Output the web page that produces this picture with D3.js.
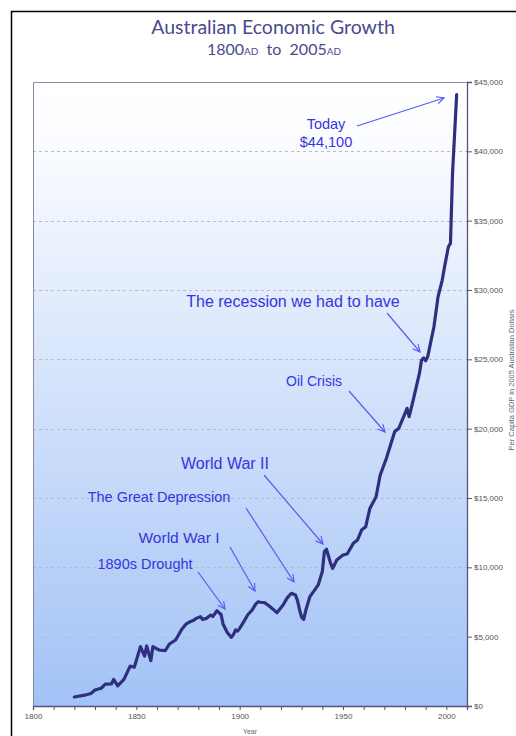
<!DOCTYPE html>
<html><head><meta charset="utf-8">
<script src="https://cdn.jsdelivr.net/npm/d3@7"></script>
<style>body{margin:0;background:#fff}svg{display:block}</style>
</head><body>
<svg id="c" width="516" height="736"></svg>
<script>
const years = [1820,1825,1828,1830,1833,1835,1838,1839,1841,1844,1847,1849,1852,1854,1855,1857,1858,1861,1864,1866,1869,1872,1874,1876,1878,1879,1881,1882,1884,1886,1887,1889,1890,1891,1892,1894,1896,1897,1898,1899,1900,1902,1904,1906,1908,1909,1910,1912,1914,1916,1918,1921,1923,1925,1927,1928,1929,1930,1931,1932,1934,1936,1938,1940,1941,1942,1943,1944,1945,1947,1950,1952,1955,1957,1959,1961,1963,1966,1968,1971,1973,1975,1977,1979,1981,1982,1984,1987,1988,1989,1990,1991,1994,1996,1998,1999,2001,2002,2003,2005];
const gdp = [650,780,900,1150,1280,1580,1600,1920,1450,1920,2880,2800,4280,3600,4330,3270,4280,4040,3990,4470,4760,5530,5900,6080,6200,6320,6440,6250,6320,6560,6450,6870,6730,6600,5900,5300,4950,5150,5480,5400,5600,6080,6600,6920,7400,7520,7480,7450,7250,7000,6730,7280,7800,8130,8000,7600,6920,6400,6250,6900,7900,8300,8730,9700,11130,11300,10800,10290,9930,10530,10890,10960,11730,11970,12690,12930,14250,15090,16660,17860,18820,19780,20030,20750,21470,20860,22070,24000,24950,25100,24900,25200,27350,29520,30700,31560,33120,33360,38410,44100];
const yTicks = [0,5000,10000,15000,20000,25000,30000,35000,40000,45000];
const xTickLabels = [1800,1850,1900,1950,2000];
const notes = [
  {lines:["Today","$44,100"], size:14.5, tx:326, ty:129, from:[357,126], to:[444,98]},
  {lines:["The recession we had to have"], size:16, tx:293, ty:307, from:[387,313], to:[420,352]},
  {lines:["Oil Crisis"], size:14, tx:314, ty:386, from:[349,391], to:[385,432]},
  {lines:["World War II"], size:16, tx:225, ty:469, from:[264,475], to:[323,544]},
  {lines:["The Great Depression"], size:14.5, tx:159, ty:502, from:[246,508], to:[294,582]},
  {lines:["World War I"], size:15.5, tx:179, ty:543, from:[230,547], to:[255,591]},
  {lines:["1890s Drought"], size:14.5, tx:145, ty:569, from:[198,572], to:[225,609]}
];

const svg = d3.select("#c");
const L=33, R=467, T=82, B=706;
const x = d3.scaleLinear().domain([1800,2010]).range([L,R]);
const y = d3.scaleLinear().domain([0,45000]).range([B,T]);

const defs = svg.append("defs");
const g = defs.append("linearGradient").attr("id","bg").attr("x1",0).attr("y1",0).attr("x2",0).attr("y2",1);
g.append("stop").attr("offset","0%").attr("stop-color","#ffffff");
g.append("stop").attr("offset","8%").attr("stop-color","#fcfdff");
g.append("stop").attr("offset","100%").attr("stop-color","#a2c2f6");
defs.append("marker").attr("id","ah").attr("viewBox","0 0 10 10").attr("refX",9).attr("refY",5)
  .attr("markerWidth",9).attr("markerHeight",9).attr("markerUnits","userSpaceOnUse").attr("orient","auto")
  .append("path").attr("d","M1,1 L9,5 L1,9").attr("fill","none").attr("stroke","#5a5aee").attr("stroke-width",1.3);

// outer border
svg.append("path").attr("d","M11.5,736 L11.5,11.5 L516,11.5").attr("fill","none").attr("stroke","#000").attr("stroke-width",1.5);

// title
const title = svg.append("g").attr("fill","#4a4a8e").attr("font-family","Lato, 'Open Sans', sans-serif").attr("text-anchor","middle");
title.append("text").attr("x",273).attr("y",34).attr("font-size",19.5).text("Australian Economic Growth");
const t2 = title.append("text").attr("x",274).attr("y",55).attr("font-size",16);
t2.append("tspan").text("1800");
t2.append("tspan").attr("font-size",10).text("AD");
t2.append("tspan").text("\u00a0 to \u00a02005");
t2.append("tspan").attr("font-size",10).text("AD");

// plot background
svg.append("rect").attr("x",L).attr("y",T).attr("width",R-L).attr("height",B-T).attr("fill","url(#bg)");

// grid
svg.append("g").selectAll("line").data(yTicks.filter(d=>d>0&&d<45000)).join("line")
  .attr("x1",L).attr("x2",R).attr("y1",d=>Math.round(y(d))+0.5).attr("y2",d=>Math.round(y(d))+0.5)
  .attr("stroke","#b8bcc8").attr("stroke-dasharray","3,3").attr("stroke-width",1);

// frame
svg.append("path").attr("d",`M${L+0.5},${B} L${L+0.5},${T+0.5} L${R},${T+0.5}`).attr("fill","none").attr("stroke","#8a8aa6").attr("stroke-width",1);

// right axis
const ra = svg.append("g").attr("transform",`translate(${R},0)`)
  .call(d3.axisRight(y).tickValues(yTicks).tickSize(5).tickFormat(d=>"$"+d3.format(",")(d)));
ra.select(".domain").attr("stroke","#55557a").attr("stroke-width",1.3);
ra.selectAll(".tick line").attr("stroke","#55557a");
ra.selectAll("text").attr("fill","#555").attr("font-family","'Liberation Sans', Arial, sans-serif").attr("font-size",8).attr("x",7);

// bottom axis
const ba = svg.append("g").attr("transform",`translate(0,${B})`)
  .call(d3.axisBottom(x).tickValues(d3.range(1800,2011,10)).tickSize(4).tickFormat(d=>xTickLabels.includes(d)?d:""));
ba.select(".domain").attr("stroke","#55557a").attr("stroke-width",1.3);
ba.selectAll(".tick line").attr("stroke","#55557a");
ba.selectAll("text").attr("fill","#555").attr("font-family","'Liberation Sans', Arial, sans-serif").attr("font-size",8).attr("y",7);

svg.append("text").attr("x",250).attr("y",734).attr("text-anchor","middle").attr("font-family","'Liberation Sans', Arial, sans-serif")
  .attr("font-size",7).attr("fill","#666").text("Year");
svg.append("text").attr("transform","translate(513.5,380) rotate(-90)").attr("text-anchor","middle").attr("font-family","'Liberation Sans', Arial, sans-serif")
  .attr("font-size",7.5).attr("fill","#666").text("Per Capita GDP in 2005 Australian Dollars");

// line
const data = years.map((yr,i)=>({yr, v:gdp[i]}));
svg.append("path").datum(data).attr("fill","none").attr("stroke","#2f2f80").attr("stroke-width",3.2)
  .attr("stroke-linejoin","round").attr("stroke-linecap","round")
  .attr("d", d3.line().x(d=>x(d.yr)).y(d=>y(d.v)));

// annotations
const an = svg.append("g");
notes.forEach(n=>{
  const t = an.append("text").attr("x",n.tx).attr("y",n.ty).attr("text-anchor","middle")
    .attr("font-family","'Liberation Sans', Arial, sans-serif").attr("font-size",n.size).attr("fill","#3535e0");
  n.lines.forEach((s,i)=>t.append("tspan").attr("x",n.tx).attr("dy",i?18:0).text(s));
  an.append("line").attr("x1",n.from[0]).attr("y1",n.from[1]).attr("x2",n.to[0]).attr("y2",n.to[1])
    .attr("stroke","#5a5aee").attr("stroke-width",1.2).attr("marker-end","url(#ah)");
});
</script>
</body></html>
